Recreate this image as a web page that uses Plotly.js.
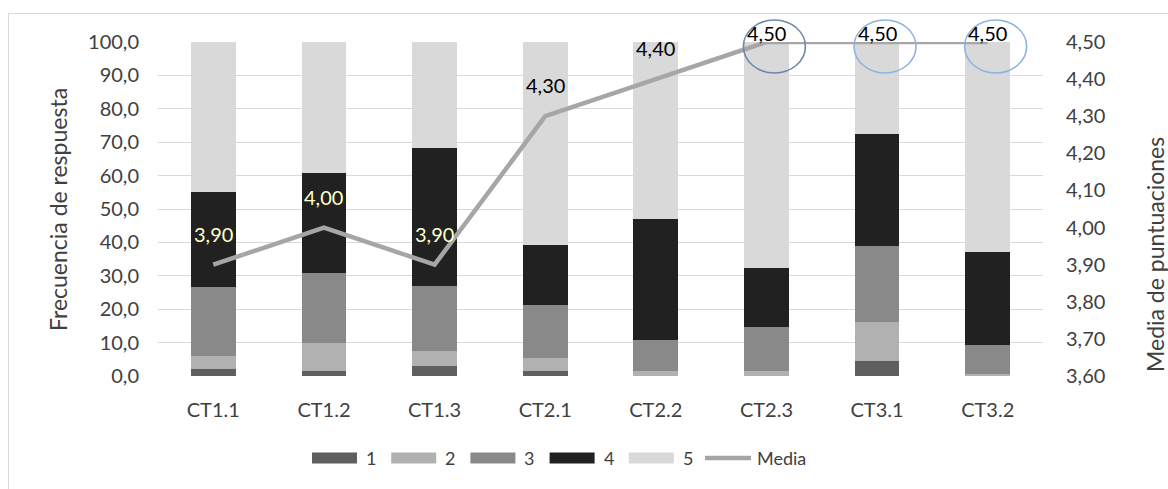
<!DOCTYPE html>
<html>
<head>
<meta charset="utf-8">
<script src="https://cdn.plot.ly/plotly-3.0.1.min.js"></script>
<style>
  html, body { margin: 0; padding: 0; background: #ffffff; }
  #wrap { position: relative; width: 1168px; height: 489px; overflow: hidden; }
  #frame { position: absolute; left: 8px; top: 13px; width: 1300px; height: 600px; border: 1px solid #d9d9d9; box-sizing: border-box; }
  #chart { position: absolute; left: 0; top: 0; width: 1168px; height: 489px; }
</style>
</head>
<body>
<div id="wrap">
  <div id="frame"></div>
  <div id="chart"></div>
</div>
<script>
// ---- data ----
const categories = ['CT1.1', 'CT1.2', 'CT1.3', 'CT2.1', 'CT2.2', 'CT2.3', 'CT3.1', 'CT3.2'];
const seriesNames = ['1', '2', '3', '4', '5'];
const resp1 = [2.0, 1.5, 3.0, 1.5, 0.0, 0.0, 4.5, 0.0];
const resp2 = [4.0, 8.3, 4.4, 3.9, 1.6, 1.6, 11.6, 0.5];
const resp3 = [20.6, 20.9, 19.5, 15.9, 9.2, 13.0, 22.8, 8.8];
const resp4 = [28.5, 30.2, 41.3, 17.9, 36.2, 17.6, 33.6, 27.7];
const resp5 = [44.9, 39.1, 31.8, 60.8, 53.0, 67.8, 27.5, 63.0];
const media = [3.90, 4.00, 3.90, 4.30, 4.40, 4.50, 4.50, 4.50];
const leftTicks = [0, 10, 20, 30, 40, 50, 60, 70, 80, 90, 100];
const rightTicks = [3.6, 3.7, 3.8, 3.9, 4.0, 4.1, 4.2, 4.3, 4.4, 4.5];
const circled = ['CT2.3', 'CT3.1', 'CT3.2'];

// ---- styles ----
const barColors = ['#5f5f5f', '#b1b1b1', '#898989', '#212121', '#d9d9d9'];
const lineColor = '#a6a6a6';
const textColor = '#404040';
const FONT = 'Lato, "Liberation Sans", sans-serif';
const fmt1 = v => v.toFixed(1).replace('.', ',');
const fmt2 = v => v.toFixed(2).replace('.', ',');

const seriesValues = [resp1, resp2, resp3, resp4, resp5];
const traces = seriesValues.map((vals, i) => ({
  type: 'bar',
  name: seriesNames[i],
  x: categories,
  y: vals,
  marker: { color: barColors[i], line: { width: 0 } },
  hoverinfo: 'x+y+name'
}));
traces.push({
  type: 'scatter',
  mode: 'lines',
  name: 'Media',
  x: categories,
  y: media,
  yaxis: 'y2',
  line: { color: lineColor, width: 4.5 },
  hoverinfo: 'x+y'
});

// plot geometry (pixels)
const W = 1168, H = 489;
const M = { l: 158, r: 125, t: 42, b: 113 };
const pw = W - M.l - M.r, ph = H - M.t - M.b;
const y2min = 3.6, y2max = 4.5;
const catToPaper = i => (i + 0.5) / categories.length;
const pxX = px => (px - M.l) / pw;
const pxY = py => (H - M.b - py) / ph;
const y2ToPaper = v => (v - y2min) / (y2max - y2min);

const annotations = [];
// data labels of the mean line
media.forEach((v, i) => {
  const top = v >= y2max;
  annotations.push({
    xref: 'x', yref: 'y2', x: categories[i], y: v,
    text: fmt2(v), showarrow: false, yanchor: 'middle',
    yshift: top ? 9 : 31,
    font: { family: FONT, size: 20, color: i < 3 ? '#ffffcc' : '#000000' }
  });
});
// axis titles
annotations.push({
  xref: 'paper', yref: 'paper', x: pxX(58), y: pxY(210),
  xanchor: 'center', yanchor: 'middle',
  text: 'Frecuencia de respuesta', textangle: -90, showarrow: false,
  font: { family: FONT, size: 23, color: textColor }
});
annotations.push({
  xref: 'paper', yref: 'paper', x: pxX(1155), y: pxY(255),
  xanchor: 'center', yanchor: 'middle',
  text: 'Media de puntuaciones', textangle: -90, showarrow: false,
  font: { family: FONT, size: 23, color: textColor }
});

const shapes = [];
// ellipses around the highest means
const ellipseColors = ['#6d88aa', '#8db3e2', '#8db3e2'];
circled.forEach((c, k) => {
  const i = categories.indexOf(c);
  const cx = catToPaper(i) + 0.009;
  const halfW = 31 / pw;
  const cy = y2ToPaper(media[i]);
  shapes.push({
    type: 'circle', xref: 'paper', yref: 'paper',
    x0: cx - halfW, x1: cx + halfW,
    y0: cy - 31 / ph, y1: cy + 22 / ph,
    line: { color: ellipseColors[k], width: 1.6 }, layer: 'above'
  });
});

// custom legend (wide swatches like the reference)
const legY = pxY(458);
const legStart = 312, legStep = 79.2, swW = 45, swH = 11;
seriesNames.forEach((n, i) => {
  const x0 = legStart + i * legStep;
  shapes.push({
    type: 'rect', xref: 'paper', yref: 'paper',
    x0: pxX(x0), x1: pxX(x0 + swW),
    y0: legY - swH / 2 / ph, y1: legY + swH / 2 / ph,
    fillcolor: barColors[i], line: { width: 0 }
  });
  annotations.push({
    xref: 'paper', yref: 'paper', x: pxX(x0 + swW + 7), y: legY,
    xanchor: 'left', yanchor: 'middle', text: n, showarrow: false,
    font: { family: FONT, size: 18, color: textColor }
  });
});
{
  const x0 = legStart + seriesNames.length * legStep - 3;
  shapes.push({
    type: 'line', xref: 'paper', yref: 'paper',
    x0: pxX(x0), x1: pxX(x0 + 46), y0: legY, y1: legY,
    line: { color: lineColor, width: 4.5 }
  });
  annotations.push({
    xref: 'paper', yref: 'paper', x: pxX(x0 + 50), y: legY,
    xanchor: 'left', yanchor: 'middle', text: 'Media', showarrow: false,
    font: { family: FONT, size: 18, color: textColor }
  });
}

const layout = {
  width: W, height: H,
  margin: M,
  paper_bgcolor: 'rgba(0,0,0,0)',
  plot_bgcolor: 'rgba(0,0,0,0)',
  barmode: 'stack',
  bargap: 0.596,
  showlegend: false,
  font: { family: FONT, color: textColor },
  xaxis: {
    type: 'category', range: [-0.5, categories.length - 0.5],
    showgrid: false, zeroline: false, showline: false, ticks: '',
    ticklabelstandoff: 20,
    tickfont: { family: FONT, size: 20, color: textColor },
    fixedrange: true
  },
  yaxis: {
    range: [0, 100], tickvals: leftTicks, ticktext: leftTicks.map(fmt1),
    showgrid: true, gridcolor: '#d9d9d9', gridwidth: 1,
    zeroline: false, showline: false, ticks: '',
    ticklabelstandoff: 18,
    tickfont: { family: FONT, size: 20, color: textColor },
    fixedrange: true
  },
  yaxis2: {
    overlaying: 'y', side: 'right', range: [y2min, y2max],
    tickvals: rightTicks, ticktext: rightTicks.map(fmt2),
    showgrid: false, zeroline: false, showline: false, ticks: '',
    ticklabelstandoff: 22,
    tickfont: { family: FONT, size: 20, color: textColor },
    fixedrange: true
  },
  annotations: annotations,
  shapes: shapes
};

Plotly.newPlot('chart', traces, layout, { displayModeBar: false, staticPlot: true });
</script>
</body>
</html>
